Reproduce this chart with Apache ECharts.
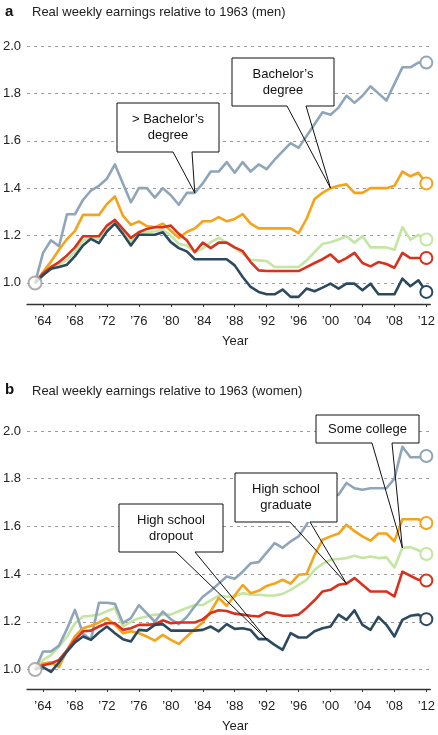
<!DOCTYPE html>
<html><head><meta charset="utf-8">
<script src="https://cdn.jsdelivr.net/npm/echarts@6/dist/echarts.min.js"></script>
<style>html,body{margin:0;padding:0;background:#fff}#c{width:438px;height:735px}</style>
</head><body><div id="c"></div>
<script>
// ---- data ----
const years = [1963,1964,1965,1966,1967,1968,1969,1970,1971,1972,1973,1974,1975,1976,1977,1978,1979,1980,1981,1982,1983,1984,1985,1986,1987,1988,1989,1990,1991,1992,1993,1994,1995,1996,1997,1998,1999,2000,2001,2002,2003,2004,2005,2006,2007,2008,2009,2010,2011,2012];
const xTickYears = [1964,1968,1972,1976,1980,1984,1988,1992,1996,2000,2004,2008,2012];
const yTickValues = [1.0,1.2,1.4,1.6,1.8,2.0];

// Men
const menAboveBachelor = [1.00,1.127,1.18,1.155,1.29,1.29,1.35,1.39,1.41,1.44,1.50,1.42,1.34,1.40,1.40,1.36,1.40,1.37,1.33,1.38,1.38,1.42,1.47,1.47,1.51,1.465,1.51,1.47,1.50,1.48,1.52,1.555,1.59,1.57,1.62,1.67,1.72,1.71,1.74,1.79,1.76,1.79,1.83,1.80,1.77,1.84,1.91,1.91,1.93,1.93];
const menBachelor = [1.00,1.046,1.09,1.14,1.185,1.22,1.287,1.287,1.287,1.333,1.365,1.284,1.245,1.26,1.24,1.235,1.25,1.22,1.19,1.215,1.23,1.26,1.26,1.278,1.26,1.27,1.29,1.25,1.23,1.23,1.23,1.23,1.23,1.21,1.27,1.354,1.38,1.40,1.41,1.416,1.38,1.38,1.40,1.40,1.40,1.41,1.47,1.45,1.465,1.42];
const menSomeCollege = [1.00,1.036,1.063,1.078,1.097,1.13,1.178,1.193,1.185,1.23,1.258,1.218,1.175,1.208,1.215,1.218,1.225,1.20,1.165,1.158,1.13,1.145,1.172,1.19,1.17,1.147,1.123,1.098,1.095,1.092,1.067,1.067,1.067,1.067,1.095,1.13,1.165,1.172,1.183,1.197,1.17,1.197,1.15,1.15,1.15,1.14,1.235,1.183,1.203,1.183];
const menHSGrad = [1.00,1.04,1.067,1.088,1.116,1.15,1.197,1.197,1.197,1.242,1.266,1.228,1.19,1.214,1.228,1.235,1.235,1.242,1.207,1.18,1.13,1.17,1.147,1.17,1.17,1.15,1.134,1.088,1.053,1.05,1.05,1.05,1.05,1.05,1.067,1.084,1.10,1.12,1.088,1.105,1.127,1.084,1.07,1.088,1.08,1.064,1.127,1.105,1.105,1.105];
const menDropout = [1.00,1.032,1.06,1.067,1.077,1.113,1.158,1.186,1.168,1.217,1.25,1.207,1.158,1.203,1.203,1.203,1.214,1.172,1.147,1.133,1.10,1.10,1.10,1.10,1.10,1.074,1.025,0.983,0.962,0.952,0.952,0.972,0.941,0.941,0.976,0.965,0.98,0.997,0.976,0.997,0.997,0.969,0.997,0.952,0.952,0.952,1.018,0.986,1.011,0.962];

// Women
const womenAboveBachelor = [1.00,1.075,1.075,1.10,1.17,1.25,1.15,1.125,1.28,1.28,1.275,1.195,1.215,1.27,1.235,1.20,1.243,1.21,1.19,1.22,1.265,1.305,1.33,1.36,1.39,1.38,1.41,1.445,1.45,1.49,1.53,1.51,1.537,1.558,1.607,1.677,1.72,1.726,1.733,1.782,1.76,1.754,1.76,1.76,1.76,1.80,1.934,1.89,1.89,1.895];
const womenBachelor = [1.00,1.025,1.03,1.01,1.08,1.14,1.173,1.183,1.197,1.215,1.187,1.152,1.16,1.152,1.138,1.121,1.145,1.124,1.107,1.138,1.169,1.197,1.244,1.30,1.267,1.31,1.354,1.32,1.33,1.35,1.36,1.376,1.36,1.397,1.40,1.48,1.544,1.558,1.57,1.607,1.58,1.558,1.54,1.57,1.57,1.537,1.63,1.63,1.63,1.614];
const womenSomeCollege = [1.00,1.04,1.06,1.096,1.138,1.194,1.222,1.225,1.23,1.244,1.258,1.18,1.20,1.215,1.222,1.23,1.23,1.23,1.244,1.258,1.27,1.27,1.29,1.31,1.305,1.306,1.32,1.313,1.313,1.31,1.31,1.317,1.334,1.355,1.376,1.418,1.443,1.46,1.463,1.467,1.477,1.467,1.474,1.467,1.47,1.428,1.51,1.513,1.50,1.484];
const womenHSGrad = [1.00,1.018,1.025,1.04,1.08,1.124,1.16,1.163,1.18,1.194,1.194,1.166,1.173,1.187,1.187,1.19,1.206,1.194,1.197,1.197,1.197,1.21,1.237,1.248,1.245,1.234,1.23,1.225,1.222,1.24,1.234,1.225,1.225,1.23,1.258,1.29,1.327,1.334,1.355,1.36,1.383,1.355,1.327,1.327,1.327,1.306,1.41,1.393,1.376,1.373];
const womenDropout = [1.00,1.01,0.99,1.03,1.075,1.113,1.138,1.124,1.155,1.18,1.152,1.127,1.117,1.166,1.163,1.187,1.19,1.163,1.163,1.163,1.163,1.166,1.18,1.16,1.19,1.17,1.173,1.165,1.127,1.127,1.103,1.082,1.152,1.134,1.134,1.16,1.173,1.18,1.23,1.208,1.248,1.187,1.166,1.22,1.187,1.138,1.208,1.225,1.23,1.211];

// ---- style ----
const C = {blue:'#8fa5b9', orange:'#f6a31c', green:'#c3e6a2', red:'#d8321f', dark:'#2c4a5f', start:'#9b9b9b'};
const FONT = '"Liberation Sans", Arial, Helvetica, sans-serif';
const chart = echarts.init(document.getElementById('c'), null, {renderer:'canvas'});

function pairs(arr){ return years.map((y,i)=>[y,arr[i]]); }
function lineSeries(name, arr, color, gi, z){
  const last = years.length-1;
  return {type:'line', name, xAxisIndex:gi, yAxisIndex:gi, data:pairs(arr), z,
    lineStyle:{color, width:2.6, join:'round'}, itemStyle:{color, borderColor:color, borderWidth:2.4},
    symbol:(v,p)=> p.dataIndex===last ? 'emptyCircle':'none', symbolSize:12,
    showAllSymbol:true, clip:false, silent:true, animation:false};
}
function startPoint(gi, arr){
  return {type:'scatter', xAxisIndex:gi, yAxisIndex:gi, data:[[years[0],arr[0]]], symbol:'emptyCircle', symbolSize:13,
    itemStyle:{color:C.start, borderColor:C.start, borderWidth:2.4}, z:20, silent:true, animation:false};
}
function xAxis(gi){
  return {type:'value', gridIndex:gi, min:1962, max:2012.5,
    axisLine:{show:true, lineStyle:{color:'#333', width:1.3}},
    axisTick:{show:true, length:3, customValues:xTickYears, lineStyle:{color:'#333'}},
    axisLabel:{customValues:xTickYears, formatter:v=>"\u2019"+String(v).slice(2), color:'#222', fontSize:13, fontFamily:FONT, margin:11},
    splitLine:{show:false},
    name:'Year', nameLocation:'middle', nameGap:31, nameTextStyle:{color:'#222', fontSize:13, fontFamily:FONT, padding:[0,0,0,13]}};
}
function yAxis(gi, min){
  return {type:'value', gridIndex:gi, min, max:2.0,
    axisLine:{show:false}, axisTick:{show:false, customValues:yTickValues},
    axisLabel:{customValues:yTickValues, formatter:v=>v.toFixed(1), color:'#222', fontSize:13, fontFamily:FONT, margin:6},
    splitLine:{show:true, lineStyle:{color:'#9a9a9a', type:[3,4], width:1}}};
}

chart.setOption({
  backgroundColor:'#fff',
  animation:false,
  grid:[{left:25, right:6, top:46, height:258}, {left:25, right:6, top:431, height:258}],
  xAxis:[xAxis(0), xAxis(1)],
  yAxis:[yAxis(0, 0.911), yAxis(1, 0.918)],
  series:[
    lineSeries('Some college', menSomeCollege, C.green, 0, 3),
    lineSeries('> Bachelor\u2019s degree', menAboveBachelor, C.blue, 0, 4),
    lineSeries('Bachelor\u2019s degree', menBachelor, C.orange, 0, 5),
    lineSeries('High school graduate', menHSGrad, C.red, 0, 6),
    lineSeries('High school dropout', menDropout, C.dark, 0, 7),
    startPoint(0, menDropout),
    lineSeries('Some college', womenSomeCollege, C.green, 1, 3),
    lineSeries('> Bachelor\u2019s degree', womenAboveBachelor, C.blue, 1, 4),
    lineSeries('Bachelor\u2019s degree', womenBachelor, C.orange, 1, 5),
    lineSeries('High school graduate', womenHSGrad, C.red, 1, 6),
    lineSeries('High school dropout', womenDropout, C.dark, 1, 7),
    startPoint(1, womenDropout)
  ]
});

function callout(gi, box, w1, w2, year, arr, text){
  const idx = years.indexOf(year);
  const tip = chart.convertToPixel({gridIndex:gi}, [year, arr[idx]]);
  const [L,T,R,B] = box;
  return [{
    type:'rect', z:100, silent:true,
    shape:{x:L, y:T, width:R-L, height:B-T},
    style:{fill:'#fff', stroke:null}
  },{
    type:'polyline', z:101, silent:true,
    shape:{points:[[w1,B],[L,B],[L,T],[R,T],[R,B],[w2,B],tip,[w1,B]]},
    style:{fill:null, stroke:'#111', lineWidth:1}
  },{
    type:'text', z:102, silent:true, x:(L+R)/2, y:(T+B)/2,
    style:{text, font:'13px '+FONT, fill:'#111', align:'center', verticalAlign:'middle', lineHeight:16}
  }];
}
const graphics = [
  {type:'text', x:5, y:12, style:{text:'a', font:'bold 15px '+FONT, fill:'#111', verticalAlign:'middle'}},
  {type:'text', x:32, y:12, style:{text:'Real weekly earnings relative to 1963 (men)', font:'13px '+FONT, fill:'#222', verticalAlign:'middle'}},
  {type:'text', x:5, y:390, style:{text:'b', font:'bold 15px '+FONT, fill:'#111', verticalAlign:'middle'}},
  {type:'text', x:32, y:391, style:{text:'Real weekly earnings relative to 1963 (women)', font:'13px '+FONT, fill:'#222', verticalAlign:'middle'}}
].concat(
  callout(0, [117,103,219,152], 173, 192, 1983, menAboveBachelor, '> Bachelor\u2019s\ndegree'),
  callout(0, [232,58,334,106], 287, 306, 2000, menBachelor, 'Bachelor\u2019s\ndegree'),
  callout(1, [316,415,419,443], 372, 392, 2009, womenSomeCollege, 'Some college'),
  callout(1, [235,473,337,522], 290, 310, 2002, womenHSGrad, 'High school\ngraduate'),
  callout(1, [119,504,223,552], 176, 195, 1992, womenDropout, 'High school\ndropout')
);
chart.setOption({graphic:graphics});
</script>
</body></html>
